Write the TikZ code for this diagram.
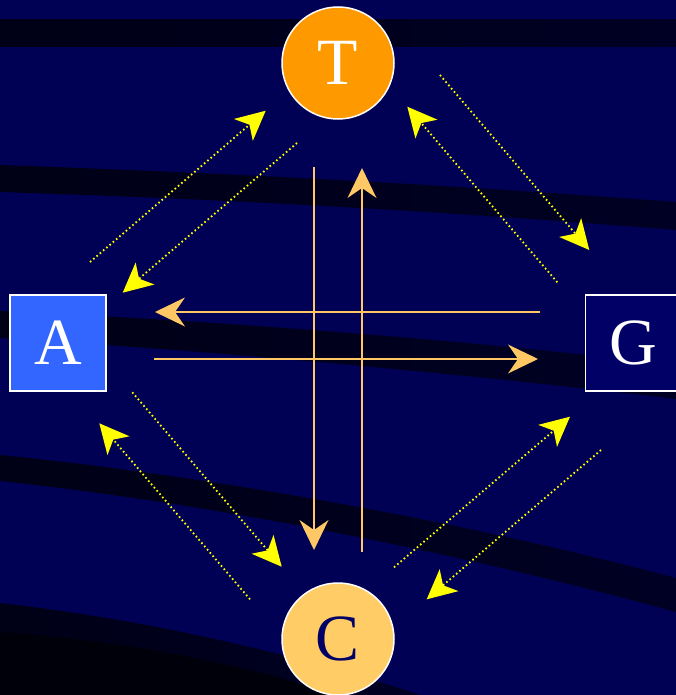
\documentclass[tikz,border=0pt]{standalone}
\usepackage{fontspec}
\setmainfont{Liberation Serif}
\usetikzlibrary{arrows.meta}
\definecolor{bgnavy}{RGB}{0,0,84}
\definecolor{banddark}{RGB}{0,0,36}
\definecolor{bandleft}{RGB}{0,0,22}
\definecolor{verydark}{RGB}{0,0,10}
\definecolor{torange}{RGB}{255,153,0}
\definecolor{clight}{RGB}{255,204,102}
\definecolor{ablue}{RGB}{51,102,255}
\definecolor{gnavy}{RGB}{0,0,102}
\definecolor{yarr}{RGB}{255,255,0}
\definecolor{oarr}{RGB}{255,200,100}
\tikzset{
  base/.style={draw=white, line width=1.5pt, inner sep=0pt, font=\fontsize{66}{66}\selectfont},
  circnode/.style={base, circle, minimum size=112pt},
  sqnode/.style={base, rectangle, minimum width=96pt, minimum height=96pt},
  yarrow/.style={draw=yarr, line width=1.8pt, dash pattern=on 1.6pt off 2.7pt,
    -{Stealth[length=29.5pt, width=29pt, inset=8pt, fill=yarr, line width=0pt]}},
  oarrow/.style={draw=oarr, line width=2pt,
    -{Stealth[length=30pt, width=29pt, inset=10pt, fill=oarr, line width=0pt]}},
  band/.style={left color=bandleft, right color=banddark, draw=none},
}
\begin{document}
\begin{tikzpicture}[x=1pt, y=-1pt]
\useasboundingbox (0,0) rectangle (676,695);
\fill[bgnavy] (0,0) rectangle (676,695);
% dark bands
\shade[band] (0,20) rectangle (676,47);
\shade[band] (0,165) .. controls (250,174) and (450,185) .. (676,202)
  -- (676,230) .. controls (450,212) and (250,200) .. (0,192) -- cycle;
\shade[band] (0,311) .. controls (200,320) and (450,338) .. (676,365)
  -- (676,399) .. controls (450,372) and (200,350) .. (0,338) -- cycle;
\shade[band] (0,455) .. controls (200,475) and (450,518) .. (676,578)
  -- (676,612) .. controls (450,550) and (200,502) .. (0,481) -- cycle;
\shade[band] (0,603) .. controls (150,620) and (300,655) .. (420,695)
  -- (0,695) -- cycle;
\fill[verydark] (0,632) .. controls (120,640) and (250,665) .. (335,695)
  -- (0,695) -- cycle;
% nodes
\node[circnode, fill=torange, text=white] (T) at (338,63) {T};
\node[circnode, fill=clight, text=gnavy] (C) at (338,639) {C};
\node[sqnode, fill=ablue, text=white] (A) at (58,343) {A};
\node[sqnode, fill=gnavy, text=white] (G) at (633.5,343) {G};
% connector end points
\coordinate (atS) at (90,262);    \coordinate (atE) at (265.7,110.7);
\coordinate (taS) at (297,143);   \coordinate (taE) at (122.7,292.7);
\coordinate (tgS) at (440,75);    \coordinate (tgE) at (589.3,250);
\coordinate (gtS) at (557.3,282.3); \coordinate (gtE) at (407.3,106.7);
\coordinate (acS) at (132.3,392.3); \coordinate (acE) at (281.7,566.7);
\coordinate (caS) at (250,599.3); \coordinate (caE) at (99.3,423.3);
\coordinate (cgS) at (394,567.3); \coordinate (cgE) at (570,416.7);
\coordinate (gcS) at (601,450);   \coordinate (gcE) at (426.7,599.3);
\coordinate (tcS) at (314,167);   \coordinate (tcE) at (314,550);
\coordinate (ctS) at (362,552);   \coordinate (ctE) at (362,168);
\coordinate (gaS) at (540,312);   \coordinate (gaE) at (155,312);
\coordinate (agS) at (154,359);   \coordinate (agE) at (538,359);
% yellow dotted arrows
\draw[yarrow] (atS) -- (atE);
\draw[yarrow] (taS) -- (taE);
\draw[yarrow] (tgS) -- (tgE);
\draw[yarrow] (gtS) -- (gtE);
\draw[yarrow] (acS) -- (acE);
\draw[yarrow] (caS) -- (caE);
\draw[yarrow] (cgS) -- (cgE);
\draw[yarrow] (gcS) -- (gcE);
% orange arrows
\draw[oarrow] (tcS) -- (tcE);
\draw[oarrow] (ctS) -- (ctE);
\draw[oarrow] (gaS) -- (gaE);
\draw[oarrow] (agS) -- (agE);
\end{tikzpicture}
\end{document}
